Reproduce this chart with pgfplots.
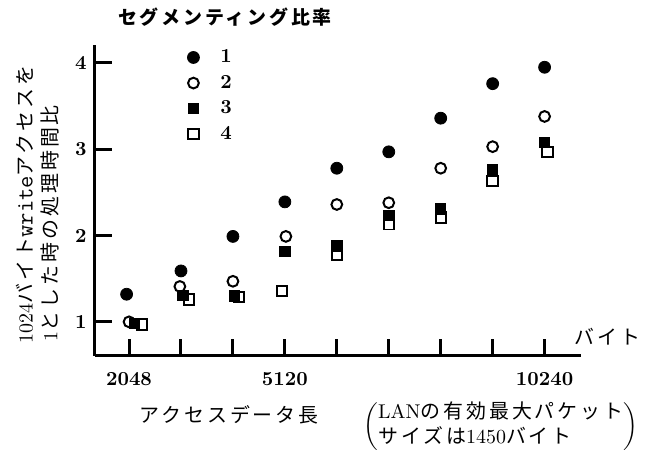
\documentclass[border=0pt]{standalone}
\usepackage{fontspec}
\usepackage{pgfplots}
\pgfplotsset{compat=1.18}
\newfontfamily\jp[LetterSpace=15]{Noto Sans CJK JP}
\begin{document}
\begin{tikzpicture}
\path (-47.5pt,-52pt) rectangle (276pt,178.5pt);
\begin{axis}[
 at={(0pt,0pt)}, anchor=south west,
 scale only axis, width=244pt, height=156pt,
 xmin=1369, xmax=10949, ymin=0.61, ymax=4.21,
 axis lines*=left,
 axis line style={line width=1.5pt},
 tick align=inside,
 major tick length=8.5pt,
 every tick/.style={line width=1.5pt, black},
 scaled x ticks=false,
 xtick={2048,3072,4096,5120,6144,7168,8192,9216,10240},
 xticklabels={\textbf{2048},,,\textbf{5120},,,,,\textbf{10240}},
 ytick={1,2,3,4},
 yticklabels={\textbf{1},\textbf{2},\textbf{3},\textbf{4}},
 xticklabel style={yshift=-5pt},
 yticklabel style={xshift=-0.5pt},
 legend style={draw=none, fill=none, at={(0.178,1.012)}, anchor=north west, font=\bfseries, row sep=0.8pt,
   /tikz/every odd column/.append style={column sep=8.5pt}},
 legend cell align=left,
 clip=false,
]
\addplot[only marks, mark=*, mark size=3pt, black] coordinates {
(2000,1.32)(3072,1.59)(4096,1.99)(5120,2.39)(6144,2.78)(7168,2.97)(8192,3.36)(9216,3.76)(10240,3.95)};
\addlegendentry{1}
\addplot[only marks, mark=o, mark size=2.7pt, black, mark options={fill=white, line width=1pt}] coordinates {
(2048,1.00)(3050,1.41)(4096,1.47)(5140,1.99)(6144,2.36)(7168,2.38)(8192,2.78)(9216,3.03)(10240,3.38)};
\addlegendentry{2}
\addplot[only marks, mark=square*, mark size=2.6pt, black] coordinates {
(2150,0.98)(3110,1.31)(4130,1.30)(5120,1.82)(6144,1.88)(7168,2.23)(8192,2.31)(9216,2.76)(10240,3.08)};
\addlegendentry{3}
\addplot[only marks, mark=square, mark size=2.6pt, black, mark options={fill=white, line width=1pt}] coordinates {
(2300,0.97)(3230,1.26)(4210,1.29)(5060,1.36)(6144,1.78)(7168,2.13)(8192,2.21)(9216,2.63)(10300,2.97)};
\addlegendentry{4}
\end{axis}
\node[font={\fontsize{9.5}{11}\selectfont\jp\bfseries}] at (65.5pt,170pt) {セグメンティング比率};
\node[font=\jp] at (67.5pt,-30pt) {アクセスデータ長};
\node[font=\jp, anchor=west] at (237.5pt,9.5pt) {バイト};
\node at (204pt,-35.5pt) {$\left(\begin{tabular}{@{}l@{}}LAN{\jp の有効最大パケット}\\{\jp サイズは}1450{\jp バイト}\end{tabular}\right)$};
\node[rotate=90, anchor=west, font=\jp, inner sep=0pt] at (-35pt,6pt) {{\rmfamily 1024}バイト{\ttfamily\fontsize{12}{12}\selectfont write}アクセスを};
\node[rotate=90, anchor=west, font=\jp, inner sep=0pt] at (-22.5pt,7pt) {{\rmfamily 1}とした時の処理時間比};
\end{tikzpicture}
\end{document}
